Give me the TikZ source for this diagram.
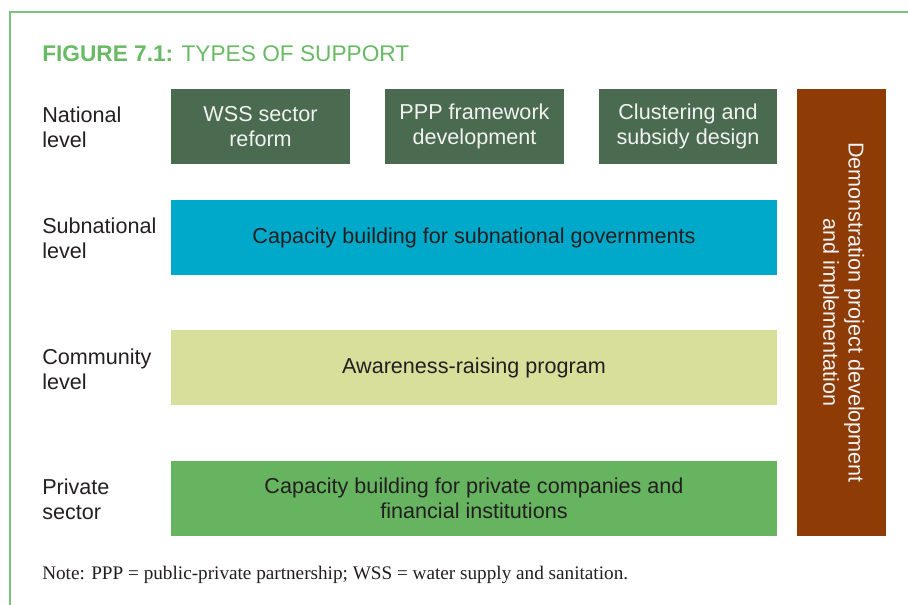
\documentclass[tikz,border=0pt]{standalone}
\usepackage{fontspec}
\setmainfont{Liberation Sans}
\newfontfamily\notefont{Liberation Serif}
\usetikzlibrary{positioning}

\definecolor{framegreen}{RGB}{125,196,122}
\definecolor{titlegreen}{RGB}{104,186,100}
\definecolor{natgreen}{RGB}{74,107,80}
\definecolor{subblue}{RGB}{0,168,202}
\definecolor{comyellow}{RGB}{215,223,155}
\definecolor{privgreen}{RGB}{102,179,96}
\definecolor{demobrown}{RGB}{142,59,6}
\definecolor{textdark}{RGB}{35,31,32}

\tikzset{
  box/.style={rectangle,inner sep=0pt,align=center,minimum height=75*0.75pt,
    font=\fontsize{16.2}{19}\selectfont,text=textdark},
  levellabel/.style={anchor=west,inner sep=0pt,align=left,
    font=\fontsize{16.2}{19}\selectfont,text=textdark}
}

\begin{document}
\begin{tikzpicture}[x=0.75pt,y=-0.75pt]
	\useasboundingbox (0,0) rectangle (908,605);
	
	%Rahmen
	\draw[framegreen,line width=1.5pt] (10,605) -- (10,12.5) -- (908,12.5);
	
	%Titel
	\node[anchor=base west,inner sep=0pt,text=titlegreen,font=\fontsize{17}{20}\selectfont] (title) at (42,62)
		{\textbf{FIGURE 7.1:} TYPES OF SUPPORT};
	
	%Ebenen
	\foreach \name/\y/\txt in
		{national/127/National\\level,subnational/238/Subnational\\level,
		 community/369/Community\\level,private/499/Private\\sector}
			\node[levellabel] (\name) at (42,\y) {\txt};
	
	%Kaesten national
	\foreach \name/\x/\w/\txt in
		{wss/260.5/179/WSS sector\\reform,ppp/474.5/179/PPP framework\\development,
		 cluster/688/178/Clustering and\\subsidy design}
			\node[box,fill=natgreen,text=white!95!black,minimum width={\w*0.75pt}] (\name) at (\x,126.5) {\txt};
	
	%Kaesten breit
	\node[box,fill=subblue,minimum width={606*0.75pt}] (capsub) at (474,237.5)
		{Capacity building for subnational governments};
	\node[box,fill=comyellow,minimum width={606*0.75pt}] (aware) at (474,368)
		{Awareness-raising program};
	\node[box,fill=privgreen,minimum width={606*0.75pt}] (cappriv) at (474,498.5)
		{Capacity building for private companies and\\financial institutions};
	
	%Demonstration
	\node[box,fill=demobrown,text=white!95!black,minimum width={89*0.75pt},minimum height={447*0.75pt}] (demo) at (841.5,312.5) {};
	\node[rotate=-90,align=center,inner sep=0pt,text=white!95!black,font=\fontsize{16.2}{19}\selectfont] (demotext) at (demo.center)
		{Demonstration project development\\and implementation};
	
	%Anmerkung
	\node[anchor=base west,inner sep=0pt,text=textdark,font=\notefont\fontsize{14.4}{17}\selectfont] (note) at (42,580)
		{Note: PPP = public-private partnership; WSS = water supply and sanitation.};
\end{tikzpicture}
\end{document}
